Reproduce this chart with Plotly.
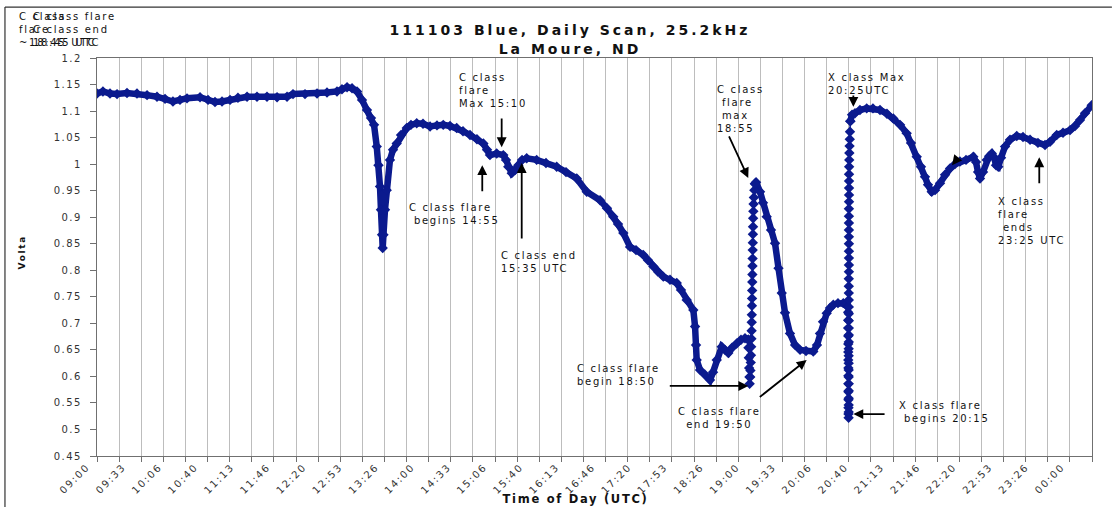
import plotly.graph_objects as go

# ---------------- data (x: minutes after 09:00 UTC, y: volts) ----------------
quiet_min = [0, 5.5, 12.0, 18.5, 27.7, 36.9, 46.2, 55.4, 62.8, 70.1, 76.6, 83.1, 95.1, 102.5,
             108.9, 115.4, 122.8, 130.1, 138.5, 147.7, 156.9, 166.2, 175.4, 180.9, 192.0, 203.1,
             212.3, 221.5, 226.1, 230.8, 235.4, 240.0, 244.6, 249.2, 252.9, 255.7, 258.2, 259.8,
             261.2, 262.1, 263.1, 263.7, 264.4, 265.8, 267.4, 270.4, 273.2, 276.6, 280.6, 285.9,
             289.8, 295.1, 300.9, 307.4, 313.8, 319.6, 325.8, 332.0, 337.8, 344.3, 350.7, 356.6,
             360.0, 362.7, 368.9, 375.0, 377.5, 379.6, 382.8, 385.8, 388.9, 392.3, 396.6, 405.8,
             414.4, 424.3, 432.9, 442.8, 452.0, 464.3, 470.7, 476.5, 480.9, 485.8, 492.0, 497.5,
             504.2, 508.6, 513.5, 517.8, 522.7, 528.9, 535.1, 539.0, 544.3, 550.4, 552.0, 552.9,
             553.5, 556.6, 561.2, 565.8, 568.6, 572.0, 576.6, 579.6, 582.7, 586.1, 590.4, 594.4,
             598.1, 601.1]
quiet_v = [1.133, 1.137, 1.133, 1.132, 1.134, 1.133, 1.130, 1.127, 1.123, 1.118, 1.121, 1.124,
           1.126, 1.121, 1.117, 1.118, 1.121, 1.125, 1.127, 1.127, 1.127, 1.126, 1.127, 1.132,
           1.132, 1.133, 1.135, 1.137, 1.141, 1.145, 1.143, 1.137, 1.121, 1.102, 1.087, 1.074,
           1.033, 0.998, 0.958, 0.914, 0.867, 0.842, 0.867, 0.914, 0.951, 1.008, 1.027, 1.039,
           1.055, 1.068, 1.074, 1.077, 1.076, 1.071, 1.073, 1.074, 1.072, 1.068, 1.062, 1.055,
           1.047, 1.039, 1.027, 1.017, 1.020, 1.017, 1.008, 0.995, 0.983, 0.989, 0.998, 1.008,
           1.011, 1.008, 1.002, 0.995, 0.985, 0.973, 0.948, 0.932, 0.917, 0.901, 0.887, 0.870,
           0.844, 0.838, 0.829, 0.819, 0.807, 0.797, 0.788, 0.782, 0.776, 0.763, 0.744, 0.725,
           0.694, 0.659, 0.631, 0.612, 0.603, 0.593, 0.608, 0.631, 0.656, 0.650, 0.644, 0.654,
           0.662, 0.669, 0.672, 0.669]

cflare_min = [601.1, 601.3, 601.6, 601.9, 602.2, 602.4, 602.9, 603.1, 603.4, 603.6, 603.8, 604.0,
              604.2, 604.3, 604.4, 604.5, 604.6, 604.7, 604.8, 604.9, 605.0, 605.1, 605.2, 605.3,
              605.4, 605.5, 605.6, 605.8, 606.0, 606.3, 606.7, 607.3]
cflare_v = [0.669, 0.654, 0.635, 0.616, 0.599, 0.586, 0.599, 0.611, 0.626, 0.640, 0.656, 0.671,
            0.686, 0.702, 0.716, 0.733, 0.747, 0.762, 0.778, 0.792, 0.808, 0.822, 0.838, 0.852,
            0.868, 0.882, 0.898, 0.911, 0.925, 0.937, 0.951, 0.963]

decay_min = [607.3, 608.3, 612.0, 614.7, 618.1, 622.1, 625.8, 629.0, 632.0, 635.0, 639.6, 644.3,
             648.9, 654.4, 661.1, 664.5, 667.3, 670.1, 673.5, 676.5, 679.6, 683.9, 688.8, 691.3,
             693.2]
decay_v = [0.963, 0.966, 0.948, 0.927, 0.901, 0.876, 0.851, 0.804, 0.757, 0.720, 0.681, 0.659,
           0.650, 0.648, 0.647, 0.659, 0.681, 0.703, 0.719, 0.729, 0.735, 0.738, 0.738, 0.737,
           0.731]

xflare_min = [693.2, 693.3, 693.3, 693.3, 693.4, 693.4, 693.4, 693.4, 693.5, 693.5, 693.5, 693.5,
              693.6, 693.6, 693.6, 693.7,
              693.8, 693.8, 693.8, 693.8, 693.8, 693.8, 693.8, 693.8, 693.8, 693.8,
              693.9, 693.9, 693.9, 693.9, 693.9, 693.9, 693.9, 693.9, 693.9, 693.9,
              694.0, 694.0, 694.0, 694.0, 694.0, 694.0, 694.0, 694.0, 694.0, 694.0,
              694.1, 694.1, 694.1, 694.1, 694.1, 694.2, 694.3, 694.4, 694.6, 694.8, 695.0,
              695.3]
xflare_v = [0.731, 0.721, 0.706, 0.691, 0.676, 0.661, 0.646, 0.631, 0.616, 0.601, 0.586, 0.571,
            0.556, 0.541, 0.529, 0.522,
            0.533, 0.546, 0.559, 0.573, 0.586, 0.599, 0.612, 0.625, 0.639, 0.652,
            0.665, 0.678, 0.691, 0.705, 0.718, 0.731, 0.744, 0.757, 0.770, 0.784,
            0.797, 0.810, 0.823, 0.836, 0.850, 0.863, 0.876, 0.889, 0.902, 0.916,
            0.929, 0.942, 0.955, 0.968, 0.981, 0.995, 1.008, 1.021, 1.034, 1.047, 1.061,
            1.081]

recovery_min = [695.3, 696.9, 699.6, 704.2, 710.4, 716.2, 722.7, 729.1, 735.0, 741.2, 747.3,
                751.3, 756.6, 760.5, 764.2, 767.0, 770.4, 773.5, 778.1, 782.7, 787.3, 791.9,
                796.5, 802.1, 808.8, 811.3, 813.2, 815.0, 817.8, 821.2, 823.4, 825.9, 828.0,
                829.8, 831.9, 834.4, 838.1, 842.7, 848.9, 854.7, 861.2, 868.5, 875.0, 879.6,
                885.8, 891.6, 898.1, 902.7, 907.3, 911.9, 918.1]
recovery_v = [1.081, 1.093, 1.096, 1.102, 1.105, 1.105, 1.102, 1.095, 1.086, 1.074, 1.058,
              1.040, 1.014, 0.995, 0.976, 0.961, 0.948, 0.951, 0.964, 0.980, 0.992, 1.000,
              1.005, 1.008, 1.014, 1.004, 0.985, 0.973, 0.985, 1.008, 1.015, 1.020, 1.013,
              0.998, 0.995, 1.012, 1.033, 1.046, 1.053, 1.051, 1.046, 1.040, 1.036, 1.042,
              1.055, 1.059, 1.064, 1.072, 1.083, 1.096, 1.111]

x_tick_labels = ["09:00", "09:33", "10:06", "10:40", "11:13", "11:46", "12:20", "12:53",
                 "13:26", "14:00", "14:33", "15:06", "15:40", "16:13", "16:46", "17:20",
                 "17:53", "18:26", "19:00", "19:33", "20:06", "20:40", "21:13", "21:46",
                 "22:20", "22:53", "23:26", "00:00"]
y_tick_labels = ["0.45", "0.5", "0.55", "0.6", "0.65", "0.7", "0.75", "0.8", "0.85", "0.9",
                 "0.95", "1", "1.05", "1.1", "1.15", "1.2"]

label_step = 100 / 3          # minutes between time labels
grid_step = 1000 / 49         # minutes between gridlines / tick marks
n_grid = 45
x_end = n_grid * grid_step

NAVY = "#0B1A8E"
fig = go.Figure()

smooth = [(quiet_min, quiet_v), (decay_min, decay_v), (recovery_min, recovery_v)]
fast = [(cflare_min, cflare_v), (xflare_min, xflare_v)]
for xs, ys in smooth:
    fig.add_trace(go.Scatter(x=xs, y=ys, mode="lines+markers",
                             line=dict(color=NAVY, width=6.5),
                             marker=dict(symbol="diamond", size=8, color=NAVY),
                             showlegend=False, hoverinfo="skip"))
for xs, ys in fast:
    fig.add_trace(go.Scatter(x=xs, y=ys, mode="lines+markers",
                             line=dict(color=NAVY, width=1.5),
                             marker=dict(symbol="diamond", size=8, color=NAVY),
                             showlegend=False, hoverinfo="skip"))

FONT = "DejaVu Sans"
TXT = dict(family=FONT, size=10, color="#111111")

annotations = []
# text labels (data coordinates, top-left anchored)
texts = [
    (332.3, 1.177, "C class<br>flare<br>Max 15:10", "left"),
    (286.1, 0.932, "C class flare<br> begins 14:55", "left"),
    (371.0, 0.842, "C class end<br>15:35 UTC", "left"),
    (570.3, 1.155, "C class<br> flare<br> max<br>18:55", "left"),
    (441.2, 0.629, "C class flare<br>begin 18:50", "left"),
    (672.9, 1.177, "X class Max<br>20:25UTC", "left"),
    (738.4, 0.559, "X class flare<br> begins 20:15", "left"),
    (829.8, 0.944, "X class<br>flare<br> ends<br>23:25 UTC", "left"),
]
for x, y, t, al in texts:
    annotations.append(dict(x=x, y=y, xref="x", yref="y", text=t, showarrow=False,
                            xanchor="left", yanchor="top", align=al, font=TXT))
annotations.append(dict(x=574.4, y=0.548, xref="x", yref="y", text="C class flare<br>end 19:50",
                        showarrow=False, xanchor="center", yanchor="top", align="center",
                        font=TXT))
# overlapping labels at top-left corner
annotations.append(dict(x=-0.0804, y=1.123, xref="paper", yref="paper",
                        text="C class<br>flare<br>~18:45 UTC", showarrow=False,
                        xanchor="left", yanchor="top", align="left", font=TXT))
annotations.append(dict(x=-0.0663, y=1.123, xref="paper", yref="paper",
                        text="C class flare<br>C class end<br>18:45 UTC", showarrow=False,
                        xanchor="left", yanchor="top", align="left", font=TXT))

# arrows: (head x, head y, tail x, tail y) in data coordinates
arrows = [
    (373.5, 1.032, 373.5, 1.089),
    (355.6, 0.998, 355.6, 0.946),
    (392.0, 1.002, 392.0, 0.857),
    (601.1, 0.974, 582.7, 1.055),
    (601.1, 0.582, 527.3, 0.582),
    (655.0, 0.631, 610.4, 0.559),
    (698.1, 1.108, 698.1, 1.132),
    (698.1, 0.529, 728.3, 0.529),
    (869.7, 1.013, 869.7, 0.961),
    (789.2, 0.998, 793.8, 1.010),
    (33.5, 1.285, 90.5, 1.223),
    (84.3, 1.272, 84.3, 1.228),
]
for hx, hy, tx, ty in arrows:
    annotations.append(dict(x=hx, y=hy, ax=tx, ay=ty, xref="x", yref="y", axref="x", ayref="y",
                            text="", showarrow=True, arrowhead=2, arrowsize=1.1,
                            arrowwidth=1.8, arrowcolor="#000000", standoff=0))

# axis titles
annotations.append(dict(x=-0.0824, y=0.512, xref="paper", yref="paper", text="<b>Volta</b>",
                        showarrow=False, textangle=-90,
                        font=dict(family=FONT, size=9, color="#111111")))
annotations.append(dict(x=0.481, y=-0.13, xref="paper", yref="paper",
                        text="<b>Time of Day (UTC)</b>", showarrow=False,
                        font=dict(family=FONT, size=11.5, color="#111111")))

fig.update_layout(
    width=1112, height=507,
    margin=dict(l=97, r=20, t=58, b=51),
    paper_bgcolor="white", plot_bgcolor="white",
    title=dict(text="<b>111103 Blue, Daily Scan, 25.2kHz<br>La Moure, ND</b>",
               x=0.5126, xanchor="center", xref="container",
               y=0.93, yanchor="top",
               font=dict(family=FONT, size=14, color="#111111")),
    annotations=annotations,
    shapes=[
        dict(type="line", xref="paper", yref="paper", x0=-0.0925, x1=-0.0925, y0=-0.13, y1=1.128,
             line=dict(color="#333333", width=1.2)),
        dict(type="line", xref="paper", yref="paper", x0=-0.0925, x1=1.02, y0=1.128, y1=1.128,
             line=dict(color="#333333", width=1.2)),
    ],
)

fig.update_xaxes(
    range=[0, x_end],
    tickmode="array",
    tickvals=[i * label_step for i in range(len(x_tick_labels))],
    ticktext=x_tick_labels,
    tickangle=-45,
    ticks="",
    ticklabelstandoff=0,
    ticklabelshift=-10,
    showgrid=False,
    zeroline=False,
    showline=True, linecolor="#707070", linewidth=1.2, mirror=True,
    tickfont=dict(family=FONT, size=10, color="#333333"),
    minor=dict(tickmode="array", tickvals=[i * grid_step for i in range(n_grid + 1)],
               ticks="outside", ticklen=5, tickcolor="#707070",
               showgrid=True, gridcolor="#BDBDBD", gridwidth=1),
)
fig.update_yaxes(
    range=[0.45, 1.2],
    tickmode="array",
    tickvals=[0.45 + 0.05 * i for i in range(len(y_tick_labels))],
    ticktext=y_tick_labels,
    ticks="outside", ticklen=6, tickcolor="#707070",
    ticklabelstandoff=6,
    showgrid=False, zeroline=False,
    showline=True, linecolor="#707070", linewidth=1.2, mirror=True,
    tickfont=dict(family=FONT, size=10, color="#333333"),
)

page_style = (
    "var st = document.createElement('style');"
    "st.textContent = 'body{margin:0;}"
    " .modebar-container{display:none !important;}"
    " .xtick text{letter-spacing:1.8px;}"
    " .ytick text{letter-spacing:1.5px;}"
    " .gtitle{letter-spacing:3px;}"
    " .annotation-text{letter-spacing:1.7px;}';"
    "document.head.appendChild(st);"
)
fig.write_html("out.html", config={"displayModeBar": False}, post_script=page_style)
